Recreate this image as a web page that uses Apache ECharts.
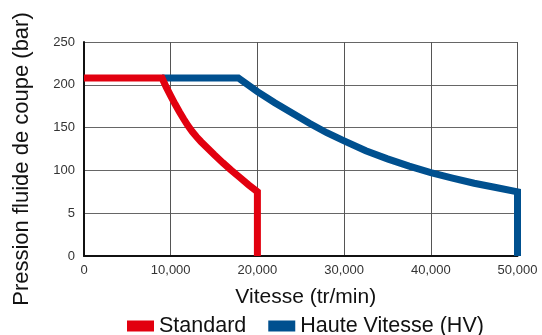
<!DOCTYPE html>
<html>
<head>
<meta charset="utf-8">
<script src="https://cdn.jsdelivr.net/npm/echarts@6/dist/echarts.min.js"></script>
<style>html,body{margin:0;padding:0;background:#fff;}#c{width:542px;height:335px;}</style>
</head>
<body>
<div id="c"></div>
<script>
// Data
var seriesNames = ['Standard', 'Haute Vitesse (HV)'];
var standardSpeed    = [0,   9000, 9500, 10000, 10500, 11000, 11500, 12000, 12500, 13000, 13500, 14000, 15000, 16000, 17000, 18000, 19000, 20000, 20000];
var standardPressure = [208, 208,  197,  187,   177.5, 168.5, 160,   152,   145,   139,   133.5, 128.5, 118.5, 109,   100,   91.5,  83,    75,    0];
var hvSpeed    = [9000, 17800, 20000, 22000, 24000, 26000, 28000, 30000, 32500, 35000, 37500, 40000, 42500, 45000, 47500, 50000, 50000];
var hvPressure = [208,  208,   192,   179,   167,   155,   144,   134.5, 123,   113.5, 105,   97.5,  91,    85,    80,    75,    0];
var xTickLabels = ['0', '10,000', '20,000', '30,000', '40,000', '50,000'];
var yTickLabels = ['0', '5', '100', '150', '200', '250'];
var xTitle = 'Vitesse (tr/min)';
var yTitle = 'Pression fluide de coupe (bar)';

function pairs(xs, ys) { return xs.map(function (x, i) { return [x, ys[i]]; }); }

var font = 'Liberation Sans, Arial, sans-serif';
var chart = echarts.init(document.getElementById('c'), null, {renderer: 'canvas'});
chart.setOption({
  animation: false,
  grid: {left: 84, right: 24.5, top: 42, bottom: 79, containLabel: false},
  legend: {
    top: 315, left: 127, padding: 0,
    itemWidth: 27, itemHeight: 11, itemGap: 22,
    icon: 'rect',
    textStyle: {fontFamily: font, fontSize: 21.5, color: '#111'},
    data: seriesNames
  },
  xAxis: {
    type: 'value', min: 0, max: 50000, interval: 10000,
    name: xTitle, nameLocation: 'middle', nameGap: 31,
    nameTextStyle: {fontFamily: font, fontSize: 21, color: '#111', padding: [0, 0, 0, 10]},
    axisLine: {show: true, onZero: false, lineStyle: {color: '#111', width: 2}},
    axisTick: {show: false},
    axisLabel: {fontFamily: font, fontSize: 13, color: '#333', margin: 8,
      formatter: function (v) { return xTickLabels[Math.round(v / 10000)]; }},
    splitLine: {show: true, lineStyle: {color: '#555', width: 1}}
  },
  yAxis: {
    type: 'value', min: 0, max: 250, interval: 50,
    name: yTitle, nameLocation: 'middle', nameGap: 51,
    nameTextStyle: {fontFamily: font, fontSize: 22, color: '#111', padding: [0, 20, 0, 0]},
    axisLine: {show: true, lineStyle: {color: '#111', width: 2}},
    axisTick: {show: false},
    axisLabel: {fontFamily: font, fontSize: 13, color: '#333', margin: 9,
      formatter: function (v) { return yTickLabels[Math.round(v / 50)]; }},
    splitLine: {show: true, lineStyle: {color: '#666', width: 1}}
  },
  series: [
    {
      name: seriesNames[1], type: 'line', data: pairs(hvSpeed, hvPressure),
      symbol: 'none', z: 2,
      itemStyle: {color: '#00508f'},
      lineStyle: {color: '#00508f', width: 7, join: 'miter'}
    },
    {
      name: seriesNames[0], type: 'line', data: pairs(standardSpeed, standardPressure),
      symbol: 'none', z: 3,
      itemStyle: {color: '#e2000f'},
      lineStyle: {color: '#e2000f', width: 7, join: 'miter'}
    }
  ]
});
</script>
</body>
</html>
